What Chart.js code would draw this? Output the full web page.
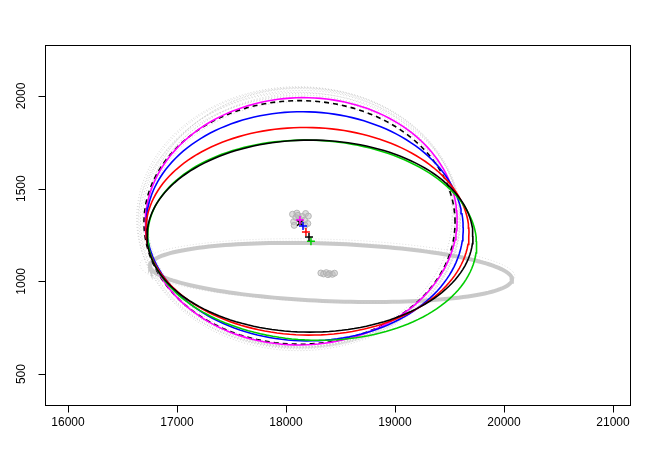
<!DOCTYPE html>
<html>
<head>
<meta charset="utf-8">
<script src="https://cdn.jsdelivr.net/npm/chart.js@4.4.1/dist/chart.umd.min.js"></script>
<style>
  html, body { margin: 0; padding: 0; background: #ffffff; }
  #wrap { width: 654px; height: 463px; }
</style>
</head>
<body>
<div id="wrap"><canvas id="ellipseChart" width="654" height="463"></canvas></div>
<script>
// Ejes
const xTicks = [16000, 17000, 18000, 19000, 20000, 21000];
const yTicks = [500, 1000, 1500, 2000];
const xRange = [15789, 21156];
const yRange = [333, 2275];

// Elipses ajustadas: negro, verde, rojo, azul, magenta, negro discontinuo
const fitColors = ['#000000', '#00cd00', '#ff0000', '#0000ff', '#ff00ff', '#000000'];
const fitDashed = [false, false, false, false, false, true];
const fitCx = [18220, 18240, 18197, 18172, 18140, 18124];
const fitCy = [1244, 1222, 1270, 1297, 1324, 1318];
const fitAx = [1495, 1508, 1482, 1454, 1430, 1427];
const fitAy = [518, 540, 560, 618, 667, 657];
const fitSx = [0, -50, -10, -15, 10, 0];
const fitSy = [0, -5, -5, -5, 5, 0];

// Centros marcados (+ y x)
const centerX = [18211, 18229, 18183, 18156, 18128, 18128];
const centerY = [1239, 1217, 1266, 1298, 1331, 1315];
const centerStyle = ['cross', 'cross', 'cross', 'cross', 'cross', 'crossRot'];

// Elipses grises punteadas alrededor de la banda principal
const bandCx = [18120, 18140, 18110, 18150, 18130, 18100, 18160, 18125, 18135, 18115];
const bandCy = [1340, 1335, 1330, 1345, 1325, 1320, 1330, 1350, 1310, 1338];
const bandAx = [1470, 1455, 1445, 1430, 1420, 1460, 1440, 1400, 1410, 1485];
const bandAy = [705, 695, 690, 700, 680, 675, 685, 690, 660, 712];

// Elipse plana gris
const flatCx = [18413, 18400, 18380];
const flatCy = [1048, 1052, 1058];
const flatAx = [1642, 1655, 1700];
const flatAy = [159, 165, 172];
const flatSx = [-250, -240, -260];
const flatSy = [-13, -10, -5];

// Nubes de puntos grises
const topClusterX = [18060, 18100, 18180, 18205, 18070, 18200, 18120, 18150, 18170, 18090, 18140, 18175, 18075, 18110];
const topClusterY = [1362, 1368, 1366, 1352, 1322, 1312, 1340, 1350, 1330, 1345, 1318, 1302, 1302, 1356];
const lowClusterX = [18320, 18345, 18370, 18400, 18425, 18445, 18385];
const lowClusterY = [1045, 1040, 1047, 1042, 1038, 1044, 1036];

function ellipsePoints(cx, cy, ax, ay, sx, sy) {
    const pts = [];
    const n = 160;
    for (let i = 0; i <= n; i++) {
        const t = 2 * Math.PI * i / n;
        pts.push({
            x: cx + ax * Math.cos(t) + sx * Math.sin(t),
            y: cy + ay * Math.sin(t) + sy * Math.cos(t)
        });
    }
    return pts;
}

const datasets = [];

// Marcadores de centro (arriba de todo)
centerX.forEach((x, i) => {
    datasets.push({
        data: [{ x: x, y: centerY[i] }],
        showLine: false,
        pointStyle: centerStyle[i],
        pointRadius: 4,
        borderColor: fitColors[i],
        backgroundColor: fitColors[i],
        borderWidth: 1.5
    });
});

// Elipses de color
fitCx.forEach((cx, i) => {
    datasets.push({
        data: ellipsePoints(cx, fitCy[i], fitAx[i], fitAy[i], fitSx[i], fitSy[i]),
        showLine: true,
        pointRadius: 0,
        borderColor: fitColors[i],
        borderWidth: 1.6,
        borderDash: fitDashed[i] ? [5, 4] : []
    });
});

// Nubes de puntos
datasets.push({
    data: topClusterX.map((x, i) => ({ x: x, y: topClusterY[i] })),
    showLine: false,
    pointStyle: 'circle',
    pointRadius: 3,
    borderWidth: 1,
    borderColor: 'rgba(175,175,175,0.9)',
    backgroundColor: 'rgba(190,190,190,0.5)'
});
datasets.push({
    data: lowClusterX.map((x, i) => ({ x: x, y: lowClusterY[i] })),
    showLine: false,
    pointStyle: 'circle',
    pointRadius: 3,
    borderWidth: 1,
    borderColor: 'rgba(175,175,175,0.9)',
    backgroundColor: 'rgba(190,190,190,0.5)'
});

// Elipse plana
flatCx.forEach((cx, i) => {
    datasets.push({
        data: ellipsePoints(cx, flatCy[i], flatAx[i], flatAy[i], flatSx[i], flatSy[i]),
        showLine: true,
        pointRadius: 0,
        borderColor: i === 0 ? 'rgba(195,195,195,0.9)' : 'rgba(205,205,205,0.6)',
        borderWidth: i === 0 ? 4 : 1,
        borderDash: i === 0 ? [] : [1, 2]
    });
});

// Banda gris punteada
bandCx.forEach((cx, i) => {
    datasets.push({
        data: ellipsePoints(cx, bandCy[i], bandAx[i], bandAy[i], 0, 0),
        showLine: true,
        pointRadius: 0,
        borderColor: 'rgba(195,195,195,0.7)',
        borderWidth: 1,
        borderDash: [1, 2]
    });
});

// Ejes al estilo R: caja, marcas y etiquetas
const rAxes = {
    id: 'rAxes',
    afterDraw(chart) {
        const ctx = chart.ctx;
        const area = chart.chartArea;
        const xs = chart.scales.x;
        const ys = chart.scales.y;
        ctx.save();
        ctx.strokeStyle = '#000';
        ctx.lineWidth = 1;
        ctx.strokeRect(Math.round(area.left) + 0.5, Math.round(area.top) + 0.5,
            Math.round(area.right - area.left), Math.round(area.bottom - area.top));
        ctx.fillStyle = '#000';
        ctx.font = '12px "Liberation Sans", Arial, sans-serif';

        const yb = Math.round(area.bottom) + 0.5;
        ctx.beginPath();
        xTicks.forEach(v => {
            const px = Math.round(xs.getPixelForValue(v)) + 0.5;
            ctx.moveTo(px, yb);
            ctx.lineTo(px, yb + 7);
        });
        ctx.stroke();
        ctx.textAlign = 'center';
        ctx.textBaseline = 'middle';
        xTicks.forEach(v => {
            ctx.fillText(String(v), xs.getPixelForValue(v), area.bottom + 18);
        });

        const xl = Math.round(area.left) + 0.5;
        ctx.beginPath();
        yTicks.forEach(v => {
            const py = Math.round(ys.getPixelForValue(v)) + 0.5;
            ctx.moveTo(xl, py);
            ctx.lineTo(xl - 7, py);
        });
        ctx.stroke();
        yTicks.forEach(v => {
            ctx.save();
            ctx.translate(area.left - 23, ys.getPixelForValue(v));
            ctx.rotate(-Math.PI / 2);
            ctx.fillText(String(v), 0, 0);
            ctx.restore();
        });
        ctx.restore();
    }
};

new Chart(document.getElementById('ellipseChart'), {
    type: 'scatter',
    data: { datasets: datasets },
    options: {
        responsive: false,
        animation: false,
        layout: { padding: { left: 45, top: 45, right: 24, bottom: 58 } },
        plugins: { legend: { display: false }, tooltip: { enabled: false } },
        scales: {
            x: { type: 'linear', display: false, min: xRange[0], max: xRange[1] },
            y: { type: 'linear', display: false, min: yRange[0], max: yRange[1] }
        }
    },
    plugins: [rAxes]
});
</script>
</body>
</html>
